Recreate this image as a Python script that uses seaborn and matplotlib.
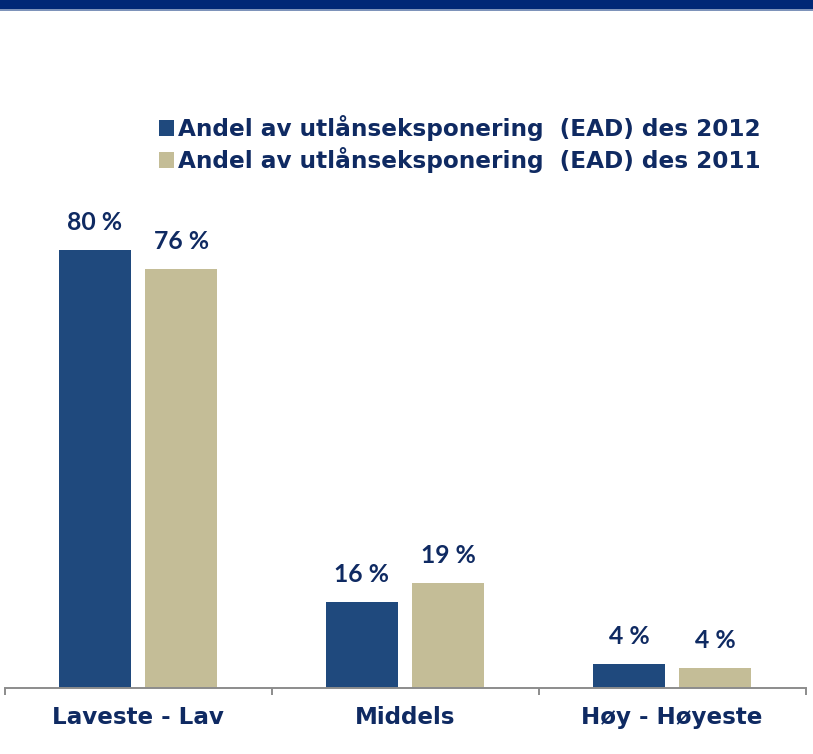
import matplotlib
matplotlib.use("Agg")
import matplotlib.pyplot as plt
from matplotlib.patches import Rectangle
import seaborn as sns
import pandas as pd

# Rating groups on the x axis
categories = ["Laveste - Lav", "Middels", "Høy - Høyeste"]
# Legend entries (one per year)
series = [
    "Andel av utlånseksponering  (EAD) des 2012",
    "Andel av utlånseksponering  (EAD) des 2011",
]
# Share of lending exposure, percent
values_2012 = [80.0, 15.7, 4.3]
values_2011 = [76.4, 19.2, 3.6]

colors = ["#1F497D", "#C4BD97"]
text_color = "#0F2A62"
axis_color = "#8C8C8C"

df = pd.DataFrame({
    "kategori": categories * 2,
    "andel": values_2012 + values_2011,
    "serie": [series[0]] * len(categories) + [series[1]] * len(categories),
})

sns.set_theme(style="white")
plt.rcParams["font.family"] = ["DejaVu Sans"]

fig = plt.figure(figsize=(8.13, 7.54), dpi=100)
ax = fig.add_axes([4.5 / 813, 66 / 754, 801 / 813, 493.2 / 754])

sns.barplot(
    data=df, x="kategori", y="andel", hue="serie", order=categories,
    hue_order=series, palette=colors, width=0.646, gap=0.165,
    linewidth=0, saturation=1, ax=ax, errorbar=None,
)

ax.set_xlim(-0.5, len(categories) - 0.5)
ax.set_ylim(0, 90)
ax.set_xlabel("")
ax.set_ylabel("")
ax.set_yticks([])

for side in ["top", "right", "left"]:
    ax.spines[side].set_visible(False)
ax.spines["bottom"].set_color(axis_color)
ax.spines["bottom"].set_linewidth(1.4)

# Category labels without major ticks; separators as minor ticks
ax.tick_params(axis="x", which="major", length=0, pad=13,
               labelsize=16.6, labelcolor=text_color)
for lab in ax.get_xticklabels():
    lab.set_fontweight("bold")
ax.set_xticks([i - 0.5 for i in range(len(categories) + 1)], minor=True)
ax.tick_params(axis="x", which="minor", bottom=True, length=5, width=1.4,
               color=axis_color, direction="out")

# Value labels above each bar
for container in ax.containers:
    for bar in container:
        h = bar.get_height()
        ax.annotate(
            f"{h:.0f} %",
            xy=(bar.get_x() + bar.get_width() / 2, h),
            xytext=(0, 14.4), textcoords="offset points",
            ha="center", va="baseline", fontsize=17.8, fontweight="bold",
            fontstyle="normal", color=text_color, family=["Lato", "DejaVu Sans"],
        )

# Legend with square swatches
handles, labels = ax.get_legend_handles_labels()
ax.legend(
    handles, labels, loc="upper left",
    bbox_to_anchor=(159 / 813, 1 - 115 / 754), bbox_transform=fig.transFigure,
    frameon=False, handlelength=0.65, handleheight=0.7,
    handletextpad=0.15, labelspacing=0.28, borderpad=0, borderaxespad=0,
    prop={"weight": "bold", "size": 16.7},
)
for t in ax.get_legend().get_texts():
    t.set_color(text_color)

# Header band
fig.add_artist(Rectangle((0, 1 - 9 / 754), 1, 9 / 754, transform=fig.transFigure,
                         facecolor="#002776", edgecolor="none"))
fig.add_artist(Rectangle((0, 1 - 11 / 754), 1, 2 / 754, transform=fig.transFigure,
                         facecolor="#7E93BA", edgecolor="none"))

fig.savefig("out.png", dpi=100)
